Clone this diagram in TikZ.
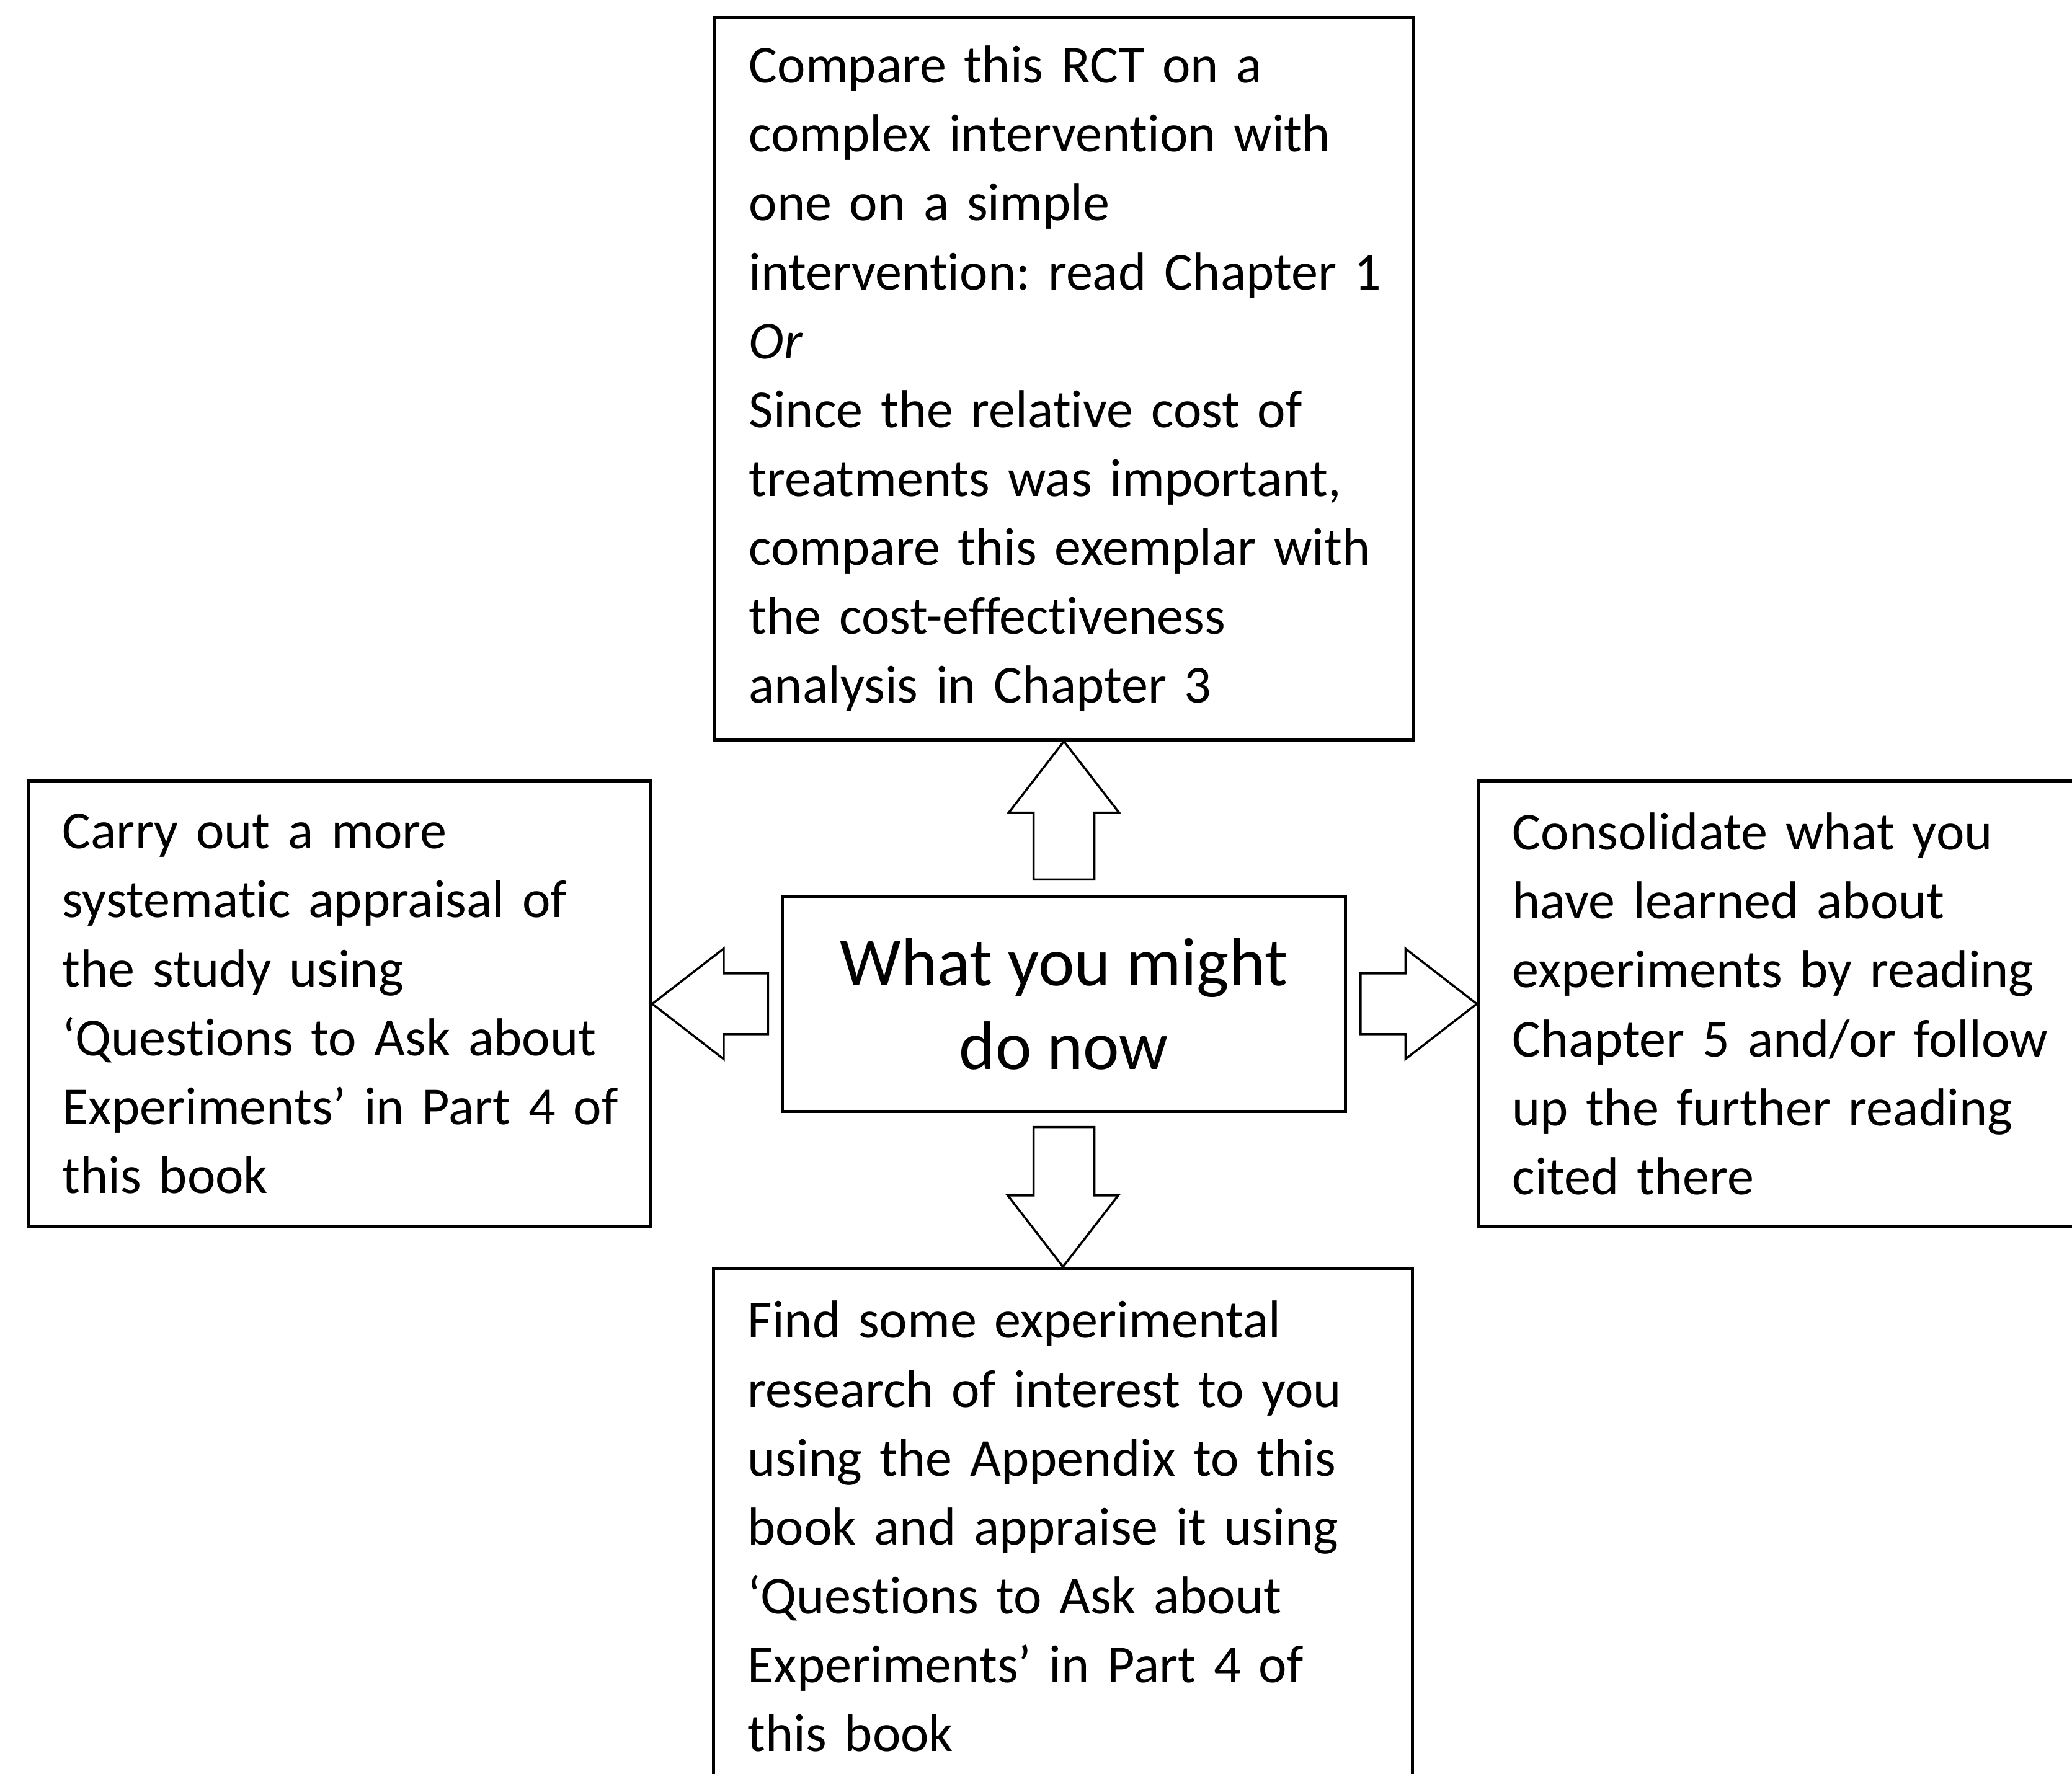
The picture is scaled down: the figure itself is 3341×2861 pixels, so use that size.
\documentclass[tikz,border=0pt]{standalone}
\usepackage{fontspec}
\setmainfont{Carlito}[Ligatures={TeX,NoCommon}]
\usetikzlibrary{calc}

\begin{document}
\begin{tikzpicture}[x=0.01cm, y=0.01cm,
    box/.style={draw, line width=1.4pt, align=left, inner xsep=0.55cm, inner ysep=0pt,
        font=\fontsize{24.5}{31.6}\selectfont,
        execute at begin node={\frenchspacing\rightskip=0pt plus 1fil minus 3cm}},
    blockarrow/.style={draw, line width=1pt, line join=miter}]
    \useasboundingbox (0,0) rectangle (3341,2861);
    % Centre box
    \node[draw, line width=1.4pt, minimum width=9.07cm, minimum height=3.46cm, align=center,
        font=\fontsize{31.5}{38.4}\selectfont] (now) at (1715.5,1242) {What you might\\do now};
    % Top box
    \node[box, text width=10.15cm, minimum height=11.64cm, anchor=north] (compare) at (1715.5,2835)
        {Compare this RCT on a\\
        complex intervention with\\
        one on a simple\\
        intervention: read Chapter 1\\
        \textit{Or}\\
        Since the relative cost of\\
        treatments was important,\\
        compare this exemplar with\\
        the cost-effectiveness\\
        analysis in Chapter 3};
    % Left box
    \node[box, text width=8.93cm, minimum height=7.18cm] (carry) at (547.5,1242)
        {Carry out a more\\
        systematic appraisal of\\
        the study using\\
        `Questions to Ask about\\
        Experiments' in Part 4 of\\
        this book};
    % Right box (runs off the page)
    \node[box, text width=9.26cm, minimum height=7.18cm] (consolidate) at (2902,1242)
        {Consolidate what you\\
        have learned about\\
        experiments by reading\\
        Chapter 5 and/or follow\\
        up the further reading\\
        cited there};
    % Bottom box (runs off the page)
    \node[box, text width=10.16cm, minimum height=8.32cm, anchor=north] (find) at (1714,818)
        {Find some experimental\\
        research of interest to you\\
        using the Appendix to this\\
        book and appraise it using\\
        `Questions to Ask about\\
        Experiments' in Part 4 of\\
        this book};
    % Block arrows
    % up
    \draw[blockarrow] ($(now.north)+(-49,25)$) |- ($(compare.south)+(-89,-115)$) -- (compare.south)
        -- ($(compare.south)+(89,-115)$) -| ($(now.north)+(49,25)$) -- cycle;
    % down
    \draw[blockarrow] ($(now.south)+(-49,-23)$) |- ($(find.north)+(-89,115)$) -- (find.north)
        -- ($(find.north)+(89,115)$) -| ($(now.south)+(49,-23)$) -- cycle;
    % left
    \draw[blockarrow] ($(now.west)+(-21,49)$) -| ($(carry.east)+(115,89)$) -- (carry.east)
        -- ($(carry.east)+(115,-89)$) |- ($(now.west)+(-21,-49)$) -- cycle;
    % right
    \draw[blockarrow] ($(now.east)+(22,49)$) -| ($(consolidate.west)+(-115,89)$) -- (consolidate.west)
        -- ($(consolidate.west)+(-115,-89)$) |- ($(now.east)+(22,-49)$) -- cycle;
\end{tikzpicture}
\end{document}
